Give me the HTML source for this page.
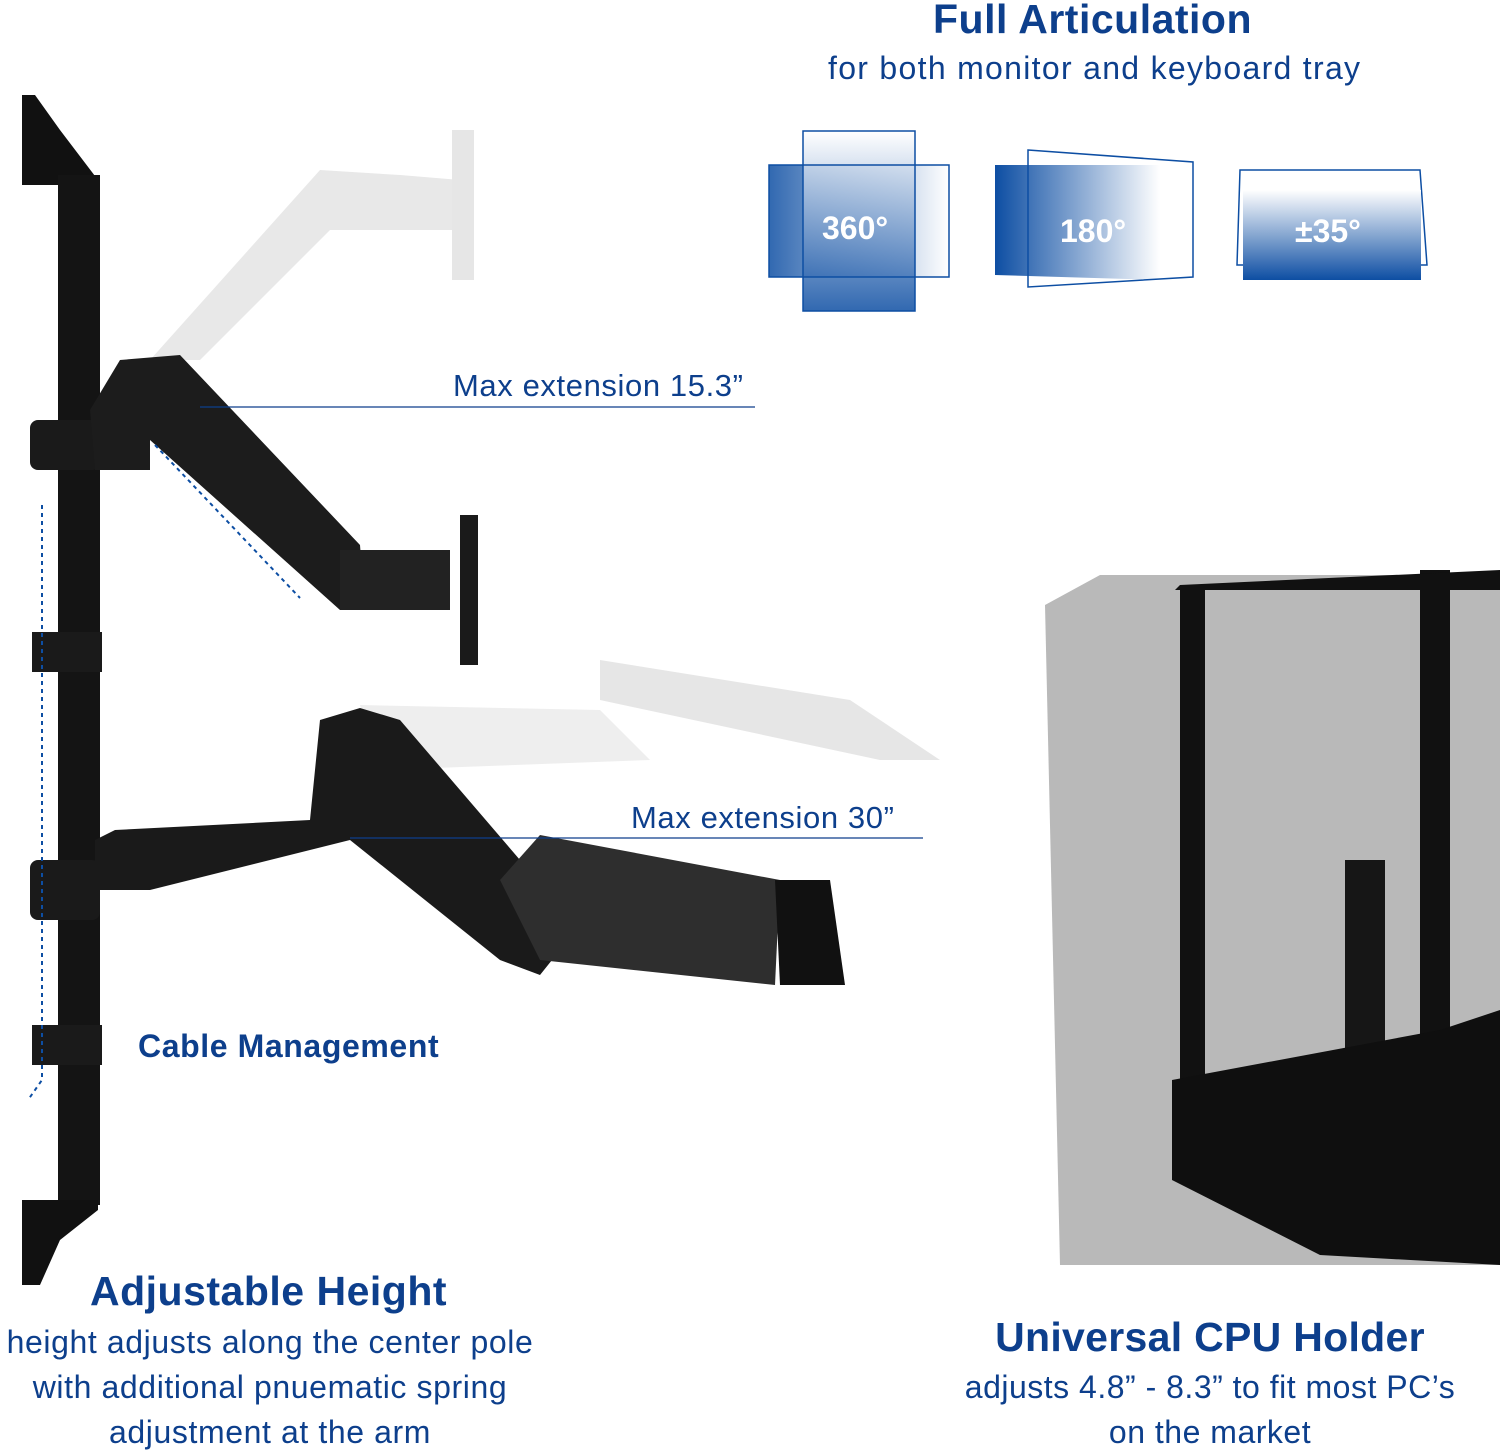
<!DOCTYPE html>
<html><head><meta charset="utf-8"><style>
body{margin:0;width:1500px;height:1450px;background:#fff;position:relative;overflow:hidden;font-family:"Liberation Sans","DejaVu Sans",sans-serif}
.t{position:absolute;color:#0d3f8c;white-space:nowrap;text-align:center}
.b{font-weight:bold}
</style></head><body>
<svg width="1500" height="1450" style="position:absolute;left:0;top:0">
<defs>
<linearGradient id="g" x1="0" y1="0" x2="0" y2="1"><stop offset="0" stop-color="#ffffff"/><stop offset="1" stop-color="#0d4ea3"/></linearGradient>
<linearGradient id="g2" x1="0" y1="0" x2="1" y2="0"><stop offset="0" stop-color="#0d4ea3"/><stop offset="1" stop-color="#ffffff"/></linearGradient>
</defs>
<path d="M150 360 L320 170 L400 175 L460 180 L460 230 L330 230 L200 360 Z" fill="#e8e8e8"/>
<rect x="452" y="130" width="22" height="150" fill="#e6e6e6"/>
<path d="M360 705 L600 710 L650 760 L380 770 Z" fill="#eeeeee"/>
<path d="M600 660 L850 700 L940 760 L880 760 L600 700 Z" fill="#e6e6e6"/>
<path d="M22 95 L35 95 L60 130 L98 180 L98 185 L22 185 Z" fill="#111"/>
<rect x="58" y="175" width="42" height="1030" fill="#141414"/>
<path d="M22 1200 L98 1200 L98 1210 L60 1240 L40 1285 L22 1285 Z" fill="#111"/>
<rect x="30" y="420" width="70" height="50" rx="8" fill="#1a1a1a"/>
<rect x="30" y="860" width="70" height="60" rx="8" fill="#1a1a1a"/>
<rect x="32" y="632" width="70" height="40" fill="#1a1a1a"/>
<rect x="32" y="1025" width="70" height="40" fill="#1a1a1a"/>
<path d="M90 410 L120 360 L180 355 L360 545 L365 610 L340 610 L150 440 L150 470 L95 470 Z" fill="#1c1c1c"/>
<rect x="340" y="550" width="110" height="60" fill="#222"/>
<rect x="460" y="515" width="18" height="150" fill="#1a1a1a"/>
<path d="M95 840 L115 830 L310 820 L320 720 L360 708 L400 720 L520 860 L560 950 L540 975 L500 960 L350 840 L150 890 L95 890 Z" fill="#1a1a1a"/>
<path d="M500 880 L540 835 L780 880 L775 985 L540 960 Z" fill="#2e2e2e"/>
<path d="M775 880 L830 880 L845 985 L780 985 Z" fill="#111"/>
<path d="M42 505 L42 1080 L28 1100" stroke="#0d4ea3" stroke-width="2" stroke-dasharray="4 4" fill="none"/>
<path d="M155 445 L300 598" stroke="#0d4ea3" stroke-width="2" stroke-dasharray="4 4" fill="none"/>
<line x1="200" y1="407" x2="755" y2="407" stroke="#0d3f8c" stroke-width="1.2"/>
<line x1="350" y1="838" x2="923" y2="838" stroke="#0d3f8c" stroke-width="1.2"/>
<rect x="769" y="165" width="180" height="112" fill="url(#g2)" opacity=".85"/>
<rect x="803" y="131" width="112" height="180" fill="url(#g)" opacity=".85"/>
<rect x="769" y="165" width="180" height="112" fill="none" stroke="#0d4ea3" stroke-width="1.5"/>
<rect x="803" y="131" width="112" height="180" fill="none" stroke="#0d4ea3" stroke-width="1.5"/>
<path d="M995 165 L1160 165 L1160 280 L995 275 Z" fill="url(#g2)"/>
<path d="M1028 150 L1193 162 L1193 277 L1028 287 Z" fill="none" stroke="#0d4ea3" stroke-width="1.5"/>
<path d="M1240 170 L1420 170 L1427 265 L1237 265 Z" fill="none" stroke="#0d4ea3" stroke-width="1.5"/>
<rect x="1243" y="190" width="178" height="90" fill="url(#g)"/>
<path d="M1045 605 L1100 575 L1500 575 L1500 1265 L1060 1265 Z" fill="#b9b9b9"/>
<rect x="1180" y="585" width="25" height="530" fill="#111"/>
<rect x="1420" y="570" width="30" height="520" fill="#111"/>
<path d="M1175 590 L1500 590 L1500 570 L1180 585 Z" fill="#111"/>
<rect x="1345" y="860" width="40" height="220" fill="#161616"/>
<path d="M1172 1080 L1440 1030 L1500 1010 L1500 1265 L1320 1255 L1172 1180 Z" fill="#0f0f0f"/>
</svg>
<div class="t b" style="left:933px;top:-4px;font-size:41px;letter-spacing:0.5px">Full Articulation</div>
<div class="t" style="left:828px;top:50px;font-size:32px;letter-spacing:1.3px">for both monitor and keyboard tray</div>
<div class="t b" style="left:822px;top:210px;font-size:32px;color:#fff">360°</div>
<div class="t b" style="left:1060px;top:213px;font-size:32px;color:#fff">180°</div>
<div class="t b" style="left:1295px;top:213px;font-size:32px;color:#fff">±35°</div>
<div class="t" style="left:453px;top:368px;font-size:31px;letter-spacing:0.6px">Max extension 15.3”</div>
<div class="t" style="left:631px;top:800px;font-size:31px;letter-spacing:0.6px">Max extension 30”</div>
<div class="t b" style="left:138px;top:1028px;font-size:32px;letter-spacing:0.6px">Cable Management</div>
<div class="t b" style="left:90px;top:1268px;font-size:41px;letter-spacing:0.5px">Adjustable Height</div>
<div class="t" style="left:0;width:540px;top:1320px;font-size:32px;line-height:45px;letter-spacing:0.6px">height adjusts along the center pole<br>with additional pnuematic spring<br>adjustment at the arm</div>
<div class="t b" style="left:960px;width:500px;top:1314px;font-size:41px;letter-spacing:0.3px">Universal CPU Holder</div>
<div class="t" style="left:960px;width:500px;top:1365px;font-size:32px;line-height:45px;letter-spacing:0.5px">adjusts 4.8” - 8.3” to fit most PC’s<br>on the market</div>
</body></html>
